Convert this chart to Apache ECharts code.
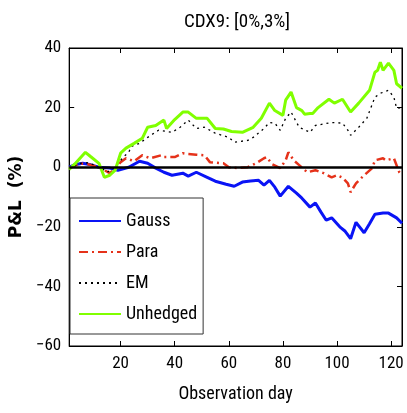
<!DOCTYPE html>
<html><head><meta charset="utf-8">
<script src="https://cdn.jsdelivr.net/npm/echarts@6/dist/echarts.min.js"></script>
<style>html,body{margin:0;padding:0;background:#fff}#c{width:407px;height:413px}</style>
</head><body><div id="c"></div>
<script>
const titleText = 'CDX9: [0%,3%]';
const xTicks = [20, 40, 60, 80, 100, 120];

const gaussDays = [1,3,6,9,12,16,19,23,27,30,33,36,39,43,45,48,52,55,59,62,65,68,71,73,75,77,79,82,85,87,90,92,94,96,98,101,103,105,107,110,112,114,117,119,122,124];
const gaussVals = [0,0.8,1.3,0.8,0,-0.3,-1,0,2,1.3,-0.3,-1.7,-2.7,-2,-3,-1.7,-3.4,-4.7,-5.7,-6.4,-5,-4.6,-4.4,-6,-4.4,-6.7,-9.7,-6.4,-8.7,-10.4,-13.4,-12,-15,-17.8,-17,-20,-21.5,-24,-18.5,-22,-19,-15.8,-15.4,-15.4,-17,-18.8];

const paraDays = [1,5,8,12,16,18,20,22,25,28,31,35,36,40,43,45,48,51,53,58,60,63,67,70,73,74,76,79,81,82,84,86,89,92,95,98,100,102,104,105,107,110,113,114,117,118,121,123,124];
const paraVals = [-0.3,1.3,1,0,-2,-0.5,1.7,3,2,4,3,4,3.4,3.4,4.7,4.4,4.2,4,1.7,1.3,0,-0.3,0,1.3,3,3.4,1,-0.3,2.3,5,2.3,0.7,-1.7,-1,-2,-3.4,-2.7,-3.5,-5.4,-8.4,-5.4,-2.7,-0.3,2.3,3,2.3,3,-1.7,-2.7];

const emDays = [1,5,8,11,14,15,18,21,23,24,27,30,34,39,42,45,48,51,55,60,62,67,69,73,75,77,79,81,83,86,90,92,95,98,102,104,105,108,111,114,116,119,121,122,124];
const emVals = [-0.5,1.3,1.5,0.5,-1,-1.7,0,3.4,5,7,8,10,12.4,11.7,13.4,15.8,13,13.4,11.4,10,8.4,9,10,13,15,14.8,12.4,16.4,18.5,13.4,11.7,14,14.5,15,14.8,12.4,10.7,13.4,16.4,23.5,24.8,25.8,23.5,19.8,20];

const unhDays = [1,3,5,7,9,12,14,16,18,20,22,25,28,30,33,36,37,40,43,45,48,52,55,58,61,65,69,72,75,77,80,81,83,85,87,88,90,91,93,97,99,102,105,108,112,114,115,116,117,119,121,122,124];
const unhVals = [-0.7,1,3,5,3.5,1.3,-3.4,-2.7,-1,4.7,6.4,8,9.7,13.4,14,15.8,13,16,18.5,18.5,16.4,16.4,13,12.8,12,11.7,13.4,16.4,21.5,19,17.4,22.5,25.2,20,19,17.8,18,18,20,22.8,21.5,22.8,18.5,21.5,25.8,31.9,32.5,35.2,32.5,34.9,32.5,28,26.5];

const zip = (d, v) => d.map((x, i) => [x, v[i]]);
const narrow = '"Roboto Condensed", "Liberation Sans", Arial, sans-serif';

const chart = echarts.init(document.getElementById('c'), null, {renderer: 'canvas'});
const tickStyle = {show: true, inside: true, length: 5, lineStyle: {color: '#000', width: 1}};
chart.setOption({
  animation: false,
  backgroundColor: '#fff',
  title: {text: titleText, left: 232, top: 8, textAlign: 'center',
    textStyle: {fontFamily: narrow, fontSize: 19, fontWeight: 'normal', color: '#000'}},
  grid: {left: 63, right: 5, top: 48, bottom: 67, show: true, borderColor: '#000', borderWidth: 1, backgroundColor: '#fff'},
  legend: {
    orient: 'vertical', left: 70, top: 198,
    data: ['Gauss', 'Para', 'EM', 'Unhedged'],
    itemWidth: 42, itemHeight: 14, itemGap: 13,
    padding: [14, 6, 11, 8],
    itemStyle: {opacity: 0},
    backgroundColor: '#fff', borderColor: '#333', borderWidth: 1,
    textStyle: {fontFamily: narrow, fontSize: 18, color: '#000'}
  },
  xAxis: [{
    type: 'value', min: 1, max: 124, position: 'bottom',
    name: 'Observation day', nameLocation: 'middle', nameGap: 39,
    nameTextStyle: {fontFamily: narrow, fontSize: 18, color: '#000'},
    axisLine: {show: true, onZero: false, lineStyle: {color: '#000'}},
    axisTick: Object.assign({customValues: xTicks}, tickStyle),
    axisLabel: {customValues: xTicks, fontFamily: narrow, fontSize: 17, color: '#000', margin: 9},
    splitLine: {show: false}
  }, {
    type: 'value', min: 1, max: 124, position: 'top',
    axisLine: {show: true, onZero: false, lineStyle: {color: '#000'}},
    axisTick: Object.assign({customValues: xTicks}, tickStyle),
    axisLabel: {show: false}, splitLine: {show: false}
  }],
  yAxis: [{
    type: 'value', min: -60, max: 40, interval: 20, position: 'left',
    name: 'P&L  (%)', nameLocation: 'middle', nameGap: 36,
    nameTextStyle: {fontFamily: '"DejaVu Sans", sans-serif', fontSize: 17, fontWeight: 'bold', color: '#000'},
    axisLine: {show: true, onZero: false, lineStyle: {color: '#000'}},
    axisTick: tickStyle,
    axisLabel: {fontFamily: narrow, fontSize: 17, color: '#000', margin: 8,
      formatter: v => (v < 0 ? '\u2212' + Math.abs(v) : String(v))},
    splitLine: {show: false}
  }, {
    type: 'value', min: -60, max: 40, interval: 20, position: 'right',
    axisLine: {show: true, onZero: false, lineStyle: {color: '#000'}},
    axisTick: tickStyle, axisLabel: {show: false}, splitLine: {show: false}
  }],
  series: [
    {name: 'Gauss', type: 'line', data: zip(gaussDays, gaussVals), symbol: 'none',
      lineStyle: {color: '#0a14f5', width: 3}, itemStyle: {color: '#0a14f5'}},
    {name: 'Para', type: 'line', data: zip(paraDays, paraVals), symbol: 'none',
      lineStyle: {color: '#e5321a', width: 2.5, type: [9, 4, 2, 4]}, itemStyle: {color: '#e5321a'}},
    {name: 'EM', type: 'line', data: zip(emDays, emVals), symbol: 'none',
      lineStyle: {color: '#000', width: 1.3, type: [2, 4]}, itemStyle: {color: '#000'}},
    {name: 'Unhedged', type: 'line', data: zip(unhDays, unhVals), symbol: 'none',
      lineStyle: {color: '#80ff00', width: 3}, itemStyle: {color: '#80ff00'},
      markLine: {silent: true, symbol: 'none', label: {show: false},
        lineStyle: {color: '#000', width: 2.5, type: 'solid'}, data: [{yAxis: 0}]}}
  ]
});
</script></body></html>
